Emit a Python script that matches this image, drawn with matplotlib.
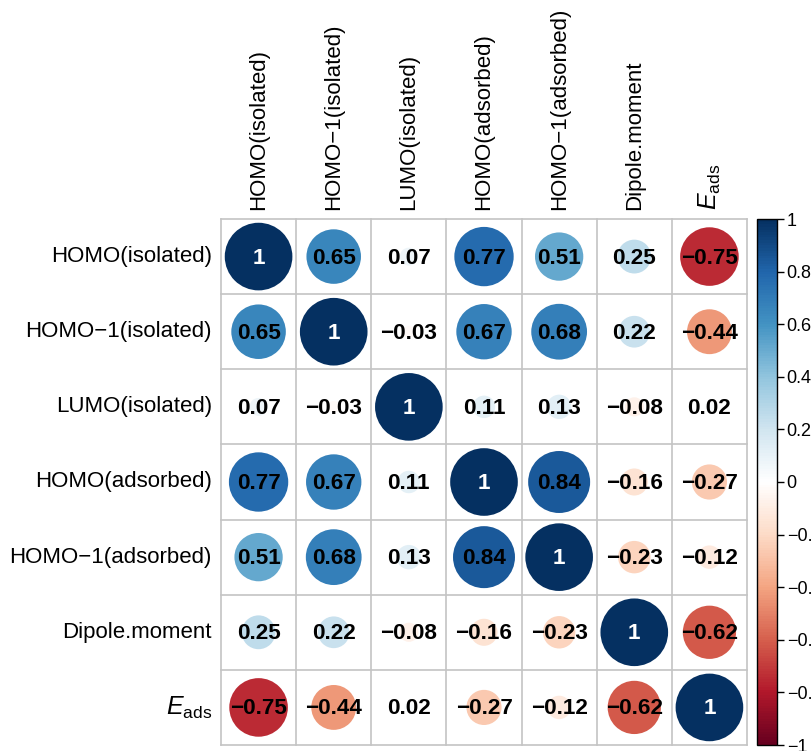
import numpy as np
import matplotlib
matplotlib.use("Agg")
import matplotlib.pyplot as plt
from matplotlib.colors import LinearSegmentedColormap, Normalize
from matplotlib.patches import Circle

plt.rcParams["font.family"] = ["Liberation Sans", "DejaVu Sans"]
plt.rcParams["mathtext.fontset"] = "custom"
plt.rcParams["mathtext.rm"] = "Liberation Sans"
plt.rcParams["mathtext.it"] = "Liberation Sans:italic"

# Variables and their correlation matrix
labels = ["HOMO(isolated)", "HOMO\u22121(isolated)", "LUMO(isolated)",
          "HOMO(adsorbed)", "HOMO\u22121(adsorbed)", "Dipole.moment",
          r"$E_{\mathrm{ads}}$"]

corr = np.array([
    [1.00, 0.65, 0.07, 0.77, 0.51, 0.25, -0.75],
    [0.65, 1.00, -0.03, 0.67, 0.68, 0.22, -0.44],
    [0.07, -0.03, 1.00, 0.11, 0.13, -0.08, 0.02],
    [0.77, 0.67, 0.11, 1.00, 0.84, -0.16, -0.27],
    [0.51, 0.68, 0.13, 0.84, 1.00, -0.23, -0.12],
    [0.25, 0.22, -0.08, -0.16, -0.23, 1.00, -0.62],
    [-0.75, -0.44, 0.02, -0.27, -0.12, -0.62, 1.00],
])

cbar_ticks = [-1, -0.8, -0.6, -0.4, -0.2, 0, 0.2, 0.4, 0.6, 0.8, 1]

# RdBu palette as used by corrplot
rdbu = ["#67001F", "#B2182B", "#D6604D", "#F4A582", "#FDDBC7", "#FFFFFF",
        "#D1E5F0", "#92C5DE", "#4393C3", "#2166AC", "#053061"]
cmap = LinearSegmentedColormap.from_list("rdbu", rdbu, N=200)
norm = Normalize(-1, 1)

W, H = 811, 751
fig = plt.figure(figsize=(W / 100, H / 100), dpi=100)

n = len(labels)
gx0, gx1, gy0, gy1 = 221, 747, 219, 745
ax = fig.add_axes([gx0 / W, 1 - gy1 / H, (gx1 - gx0) / W, (gy1 - gy0) / H])
ax.set_xlim(0, n)
ax.set_ylim(n, 0)
ax.axis("off")

grid_col = "#C4C4C4"
for k in range(n + 1):
    ax.plot([k, k], [0, n], color=grid_col, lw=1.2, zorder=1, clip_on=False)
    ax.plot([0, n], [k, k], color=grid_col, lw=1.2, zorder=1, clip_on=False)

for i in range(n):
    for j in range(n):
        v = corr[i, j]
        r = 0.45 * np.sqrt(abs(v))
        ax.add_patch(Circle((j + 0.5, i + 0.5), r, facecolor=cmap(norm(v)),
                            edgecolor="none", zorder=2))
        txt = "1" if i == j else f"{v:.2f}".replace("-", "\u2212")
        ax.text(j + 0.5, i + 0.52, txt, ha="center", va="center",
                fontsize=16.2, fontweight="bold",
                color="white" if i == j else "black", zorder=3)

# row labels on the left, column labels rotated on top
for k, lab in enumerate(labels):
    fs = 18 if lab.startswith("$") else 16
    ax.text(-0.12, k + 0.5, lab, ha="right", va="center", fontsize=fs)
    ax.text(k + 0.5, -0.12, lab, ha="center", va="bottom", rotation=90,
            fontsize=fs)

# colour legend
cax = fig.add_axes([757 / W, 1 - gy1 / H, 20 / W, (gy1 - gy0) / H])
sm = plt.cm.ScalarMappable(norm=norm, cmap=cmap)
cb = fig.colorbar(sm, cax=cax, ticks=cbar_ticks)
cb.ax.set_yticklabels([("%g" % t).replace("-", "\u2212") for t in cbar_ticks])
cb.ax.tick_params(labelsize=13, length=5, width=1, pad=2)
cb.outline.set_linewidth(1)

fig.savefig("out.png", dpi=100)
